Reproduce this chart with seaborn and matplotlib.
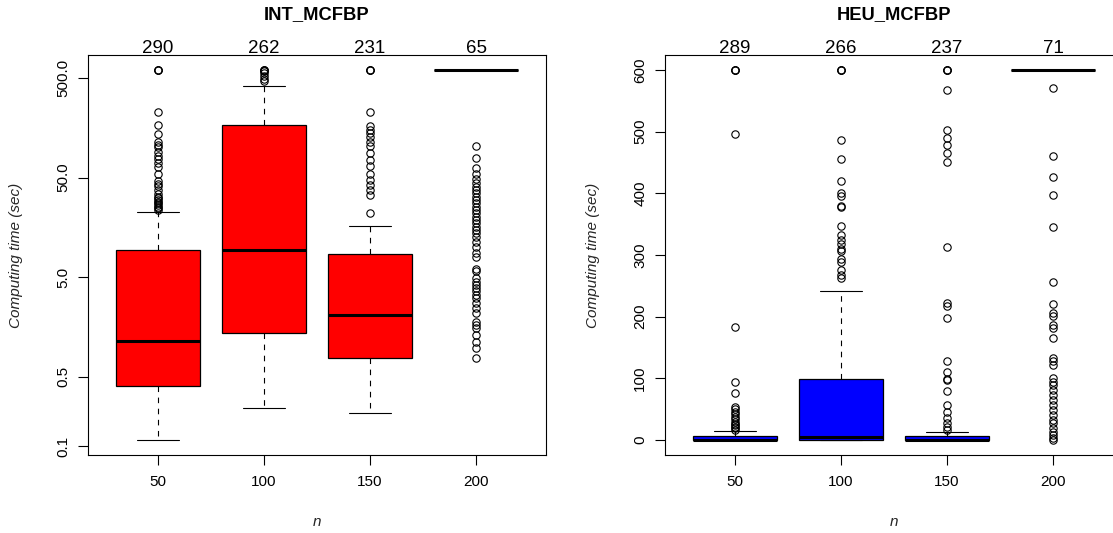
import numpy as np
import matplotlib.pyplot as plt
import matplotlib.ticker as mticker
import seaborn as sns

# R-like look: white background, full black frame, outward ticks
sns.set_style("ticks", {"axes.edgecolor": "black", "xtick.color": "black",
                        "ytick.color": "black", "text.color": "black"})
plt.rcParams['font.family'] = ['Liberation Sans', 'DejaVu Sans']

# categories (problem size n)
n_labels = ["50", "100", "150", "200"]

# ---- INT_MCFBP (log scale) ----
int_counts = [290, 262, 231, 65]
int_q1 = [0.40, 1.36, 0.77, 600]
int_med = [1.15, 9.3, 2.08, 600]
int_q3 = [9.3, 168, 8.5, 600]
int_lo = [0.114, 0.241, 0.215, 600]
int_hi = [22.6, 419, 16.3, 600]
int_out_50 = [23.6, 24.5, 25.5, 26.5, 27.6, 28.7, 29.8, 31, 32, 34, 37.6, 41, 43, 46,
              55, 64, 70, 77, 83, 91, 101, 107, 114, 138, 168, 227, 600, 600, 600]
int_out_100 = [465, 490, 525, 560, 590, 600, 600, 600]
int_out_150 = [21.9, 33.5, 38, 42, 47, 55, 65, 75, 88, 103, 115, 127, 140, 151, 166,
               231, 600, 600, 600]
int_out_200 = [0.77, 0.96, 1.12, 1.31, 1.53, 1.65, 1.78, 2.16, 2.43, 2.72, 3.06, 3.3,
               3.6, 3.9, 4.2, 4.5, 4.9, 5.8, 6.1, 8.0, 8.7, 10.1, 11.4, 12.7, 13.8,
               14.9, 16.1, 17.4, 18.8, 20.3, 21.9, 23.7, 25.5, 27.6, 29.9, 32.2, 34.8,
               37.6, 40.5, 44, 49, 55, 62, 78, 104]

# ---- HEU_MCFBP (linear scale) ----
heu_counts = [289, 266, 237, 71]
heu_q1 = [0.2, 0.5, 0.2, 600]
heu_med = [0.8, 5.9, 0.8, 600]
heu_q3 = [6.5, 99, 7, 600]
heu_lo = [0, 0.2, 0, 600]
heu_hi = [15.6, 242, 14, 600]
heu_out_50 = [17, 19, 21, 24, 27, 30, 34, 38, 42, 46, 50, 54, 76, 94, 183, 496,
              600, 600, 600]
heu_out_100 = [263, 267, 276, 289, 294, 306, 309, 318, 325, 332, 347, 378, 379, 395,
               401, 420, 456, 486, 600, 600, 600]
heu_out_150 = [16.7, 22, 27.6, 35.7, 46.4, 57, 79, 97, 99, 111, 129, 198, 217, 222,
               313, 450, 465, 478, 490, 503, 567, 600, 600, 600]
heu_out_200 = [0.5, 3.2, 8.6, 14, 19.5, 28, 33, 41, 49, 57, 65, 74, 82, 90, 95, 101,
               122, 128, 133, 166, 182, 187, 201, 206, 221, 256, 345, 398, 426, 460, 570]


def make_stats(q1, med, q3, lo, hi, outs):
    stats = []
    for i in range(len(q1)):
        stats.append(dict(q1=q1[i], med=med[i], q3=q3[i], whislo=lo[i],
                          whishi=hi[i], fliers=np.array(outs[i])))
    return stats


def draw_panel(ax, stats, color, counts, title):
    pos = [1, 2, 3, 4]
    ax.bxp(stats, positions=pos, widths=0.8, capwidths=0.4, patch_artist=True,
           manage_ticks=False,
           boxprops=dict(facecolor=color, edgecolor='black', linewidth=0.9),
           medianprops=dict(color='black', linewidth=2.2, solid_capstyle='butt'),
           whiskerprops=dict(color='black', linewidth=0.8, linestyle=(0, (5, 5))),
           capprops=dict(color='black', linewidth=0.8),
           flierprops=dict(marker='o', markersize=5.3, markerfacecolor='none',
                           markeredgecolor='black', markeredgewidth=0.8,
                           linestyle='none'))
    ax.set_xlim(0.34, 4.66)
    ax.set_xticks(pos)
    ax.set_xticklabels(n_labels)
    for x, c in zip(pos, counts):
        ax.text(x, 1.005, str(c), transform=ax.get_xaxis_transform(),
                ha='center', va='baseline', fontsize=13.5)
    ax.text(0.5, 1.09, title, transform=ax.transAxes, ha='center',
            va='baseline', fontsize=13.2, fontweight='bold')
    ax.set_xlabel('n', fontsize=11, style='italic', va='baseline')
    ax.xaxis.set_label_coords(0.5, -0.1775)
    ax.set_ylabel('Computing time (sec)', fontsize=11, style='italic', va='center')
    ax.yaxis.set_label_coords(-0.157, 0.5)
    ax.tick_params(length=7.2, width=0.8, labelsize=11)
    ax.tick_params(axis='x', pad=7)
    ax.tick_params(axis='y', pad=5.5, labelrotation=90)
    for lab in ax.get_yticklabels():
        lab.set_va('center')
    for sp in ax.spines.values():
        sp.set_linewidth(0.8)
        sp.set_color('black')


fig = plt.figure(figsize=(11.13, 5.33), dpi=100)
ax1 = fig.add_axes([88 / 1113, 78 / 533, 458 / 1113, 400 / 533])
ax2 = fig.add_axes([665 / 1113, 78 / 533, 458 / 1113, 400 / 533])

int_stats = make_stats(int_q1, int_med, int_q3, int_lo, int_hi,
                       [int_out_50, int_out_100, int_out_150, int_out_200])
heu_stats = make_stats(heu_q1, heu_med, heu_q3, heu_lo, heu_hi,
                       [heu_out_50, heu_out_100, heu_out_150, heu_out_200])

ax1.set_yscale('log')
ax1.set_ylim(10 ** -1.0905, 10 ** 2.933)
ax1.yaxis.set_major_locator(mticker.FixedLocator([0.1, 0.5, 5, 50, 500]))
ax1.yaxis.set_minor_locator(mticker.NullLocator())
ax1.set_yticklabels(["0.1", "0.5", "5.0", "50.0", "500.0"])
draw_panel(ax1, int_stats, 'red', int_counts, 'INT_MCFBP')

ax2.set_ylim(-24, 624)
ax2.set_yticks([0, 100, 200, 300, 400, 500, 600])
draw_panel(ax2, heu_stats, 'blue', heu_counts, 'HEU_MCFBP')

fig.savefig('out.png', dpi=100)
